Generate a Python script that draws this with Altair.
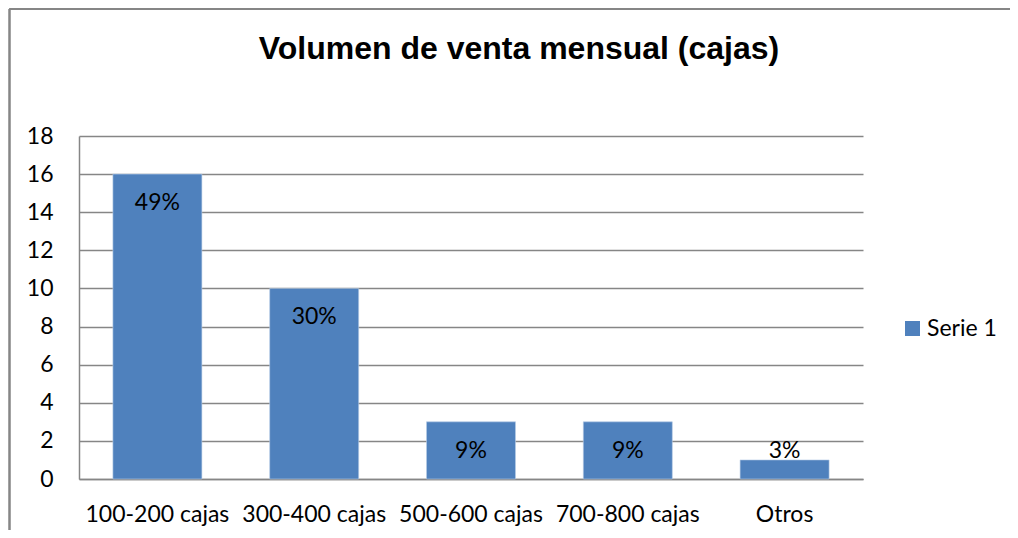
import altair as alt
import pandas as pd

categorias = ["100-200 cajas", "300-400 cajas", "500-600 cajas", "700-800 cajas", "Otros"]
valores = [16, 10, 3, 3, 1]
etiquetas = ["49%", "30%", "9%", "9%", "3%"]
serie = "Serie 1"
titulo = "Volumen de venta mensual (cajas)"
y_ticks = [0, 2, 4, 6, 8, 10, 12, 14, 16, 18]

df = pd.DataFrame({"cat": categorias, "val": valores, "lab": etiquetas, "serie": [serie] * len(categorias)})
df_title = pd.DataFrame({"t": [titulo]})

FONT = "Lato"
FS = 23
BLUE = "#4F81BD"
GRID = "#868686"

x = alt.X("cat:N", sort=categorias, title=None,
          scale=alt.Scale(paddingInner=0.432, paddingOuter=0.216),
          axis=alt.Axis(labelAngle=0, labelFont=FONT, labelFontSize=FS, labelColor="black",
                        labelPadding=24, ticks=False, domainColor=GRID, domainWidth=1.5, grid=False))
y = alt.Y("val:Q", title=None,
          scale=alt.Scale(domain=[0, 18], nice=False, zero=True),
          axis=alt.Axis(values=y_ticks, labelOverlap=False, labelFont=FONT, labelFontSize=FS,
                        labelColor="black", labelPadding=26, ticks=False, domainColor=GRID,
                        domainWidth=1.5, gridColor=GRID, gridWidth=1.5, gridOpacity=1))

bars = alt.Chart(df).mark_bar(size=89, stroke="#B9CDE5", strokeWidth=0.6).encode(
    x=x, y=y,
    color=alt.Color("serie:N", scale=alt.Scale(range=[BLUE]),
                    legend=alt.Legend(title=None, orient="none", legendX=822, legendY=181,
                                      symbolType="square", symbolSize=225, symbolStrokeWidth=0,
                                      labelFont=FONT, labelFontSize=FS, labelColor="black",
                                      labelOffset=3))
)

lab_in = alt.Chart(df).transform_filter("datum.val >= 2").mark_text(
    font=FONT, fontSize=FS, color="black", baseline="middle", dy=29
).encode(x=x, y=y, text="lab:N")

lab_out = alt.Chart(df).transform_filter("datum.val < 2").mark_text(
    font=FONT, fontSize=FS, color="black", baseline="middle", dy=-9
).encode(x=x, y=y, text="lab:N")

frame_left = alt.Chart(df).mark_rule(color=GRID, strokeWidth=1.5).encode(
    x=alt.value(-69.5), y=alt.value(-127), y2=alt.value(600))
frame_top = alt.Chart(df).mark_rule(color=GRID, strokeWidth=1.5).encode(
    x=alt.value(-69.5), x2=alt.value(1200), y=alt.value(-127))

title_mark = alt.Chart(df_title).mark_text(
    font="Liberation Sans", fontSize=32, fontWeight="bold", color="black",
    align="center", baseline="alphabetic"
).encode(x=alt.value(440), y=alt.value(-77), text="t:N")

chart = alt.layer(bars, lab_in, lab_out, frame_left, frame_top, title_mark).properties(
    width=784, height=343,
    background="white",
    autosize=alt.AutoSizeParams(type="none"),
    padding={"left": 71, "top": 128, "right": 147, "bottom": 51},
).configure_view(strokeWidth=0)

chart.save("out.html", embed_options={"renderer": "svg", "actions": False})
